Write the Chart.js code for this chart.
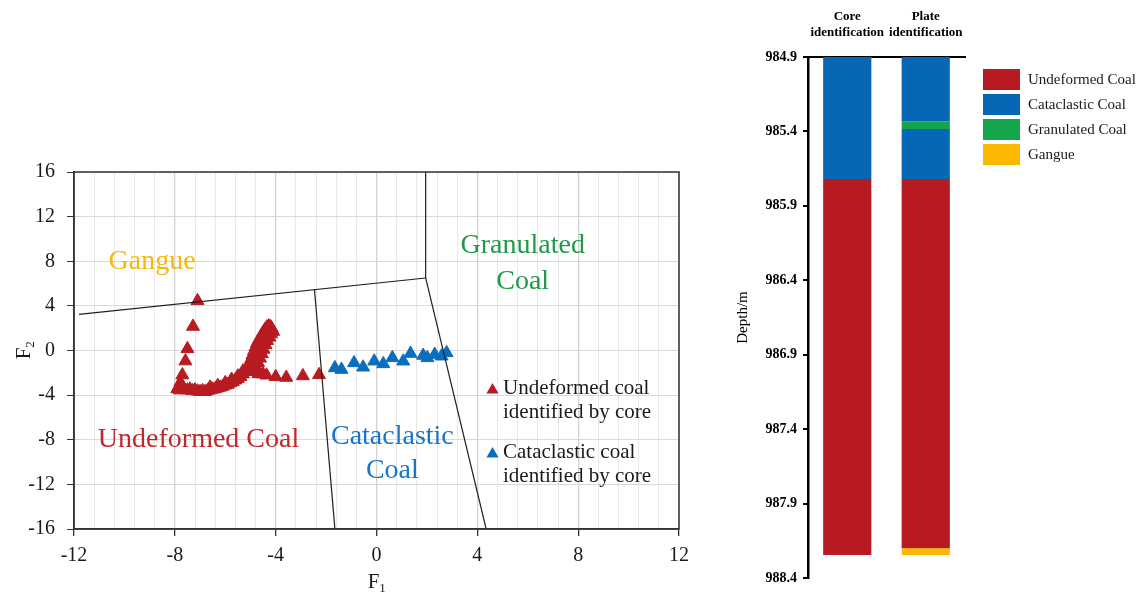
<!DOCTYPE html>
<html>
<head>
<meta charset="utf-8">
<title>Coal structure discrimination</title>
<script src="https://cdn.jsdelivr.net/npm/chart.js@4.4.1/dist/chart.umd.min.js"></script>
<style>
  html, body { margin: 0; padding: 0; background: #fff; }
  #wrap { position: relative; width: 1136px; height: 597px; overflow: hidden; }
  #discrimChart { position: absolute; left: 0; top: 0; }
  #columnChart { position: absolute; left: 720px; top: 0; }
</style>
</head>
<body>
<div id="wrap">
  <canvas id="discrimChart" width="720" height="597"></canvas>
  <canvas id="columnChart" width="416" height="597"></canvas>
</div>
<script>
// ---- discriminant plot data (F1, F2) ----
const undeformedF1 = [
  -7.10, -7.28, -7.50, -7.58, -7.70, -7.78, -7.85, -7.90, -7.80, -7.72,
  -7.62, -7.50, -7.40, -7.30, -7.20, -7.10, -7.00, -6.90, -6.80, -6.70,
  -6.60, -6.50, -6.40, -6.30, -6.20, -6.10, -6.00, -5.90, -5.80, -5.70,
  -5.60, -5.50, -5.40, -5.30, -5.20, -5.12, -5.05, -4.98, -4.92, -4.86,
  -4.80, -4.74, -4.66, -4.58, -4.50, -4.43, -4.35, -4.28, -4.20, -4.14,
  -4.10, -4.18, -4.25, -4.34, -4.40, -4.48, -4.55, -4.62, -4.70, -4.76,
  -4.80, -4.68, -4.50, -4.36, -4.00, -3.58, -2.92, -2.28,
  -6.60, -6.30, -6.00, -5.75, -5.50, -5.30
];
const undeformedF2 = [
   4.45,  2.15,  0.15, -0.95, -2.20, -2.85, -3.25, -3.45, -3.55, -3.40,
  -3.50, -3.55, -3.48, -3.60, -3.55, -3.65, -3.70, -3.62, -3.70, -3.58,
  -3.55, -3.48, -3.45, -3.36, -3.30, -3.22, -3.12, -3.05, -2.92, -2.80,
  -2.66, -2.52, -2.35, -2.12, -1.88, -1.55, -1.20, -0.80, -0.42, -0.05,
   0.30,  0.65,  0.98,  1.30,  1.60,  1.85,  2.08,  2.20,  2.12,  1.92,
   1.70,  1.48,  1.18,  0.88,  0.50,  0.10, -0.30, -0.70, -1.10, -1.50,
  -1.90, -2.10, -2.12, -2.22, -2.36, -2.42, -2.28, -2.18,
  -3.30, -3.15, -2.90, -2.60, -2.30, -1.85
];
const cataclasticF1 = [-1.65, -1.39, -0.89, -0.53, -0.09, 0.27, 0.63, 1.06, 1.35, 1.85, 2.02, 2.31, 2.58, 2.78];
const cataclasticF2 = [-1.56, -1.71, -1.11, -1.50, -0.96, -1.20, -0.66, -0.96, -0.27, -0.45, -0.66, -0.36, -0.51, -0.21];

// zone boundaries as [F1, F2] end points
const gangueBoundary = [[-11.8, 3.24], [1.95, 6.5]];
const granulatedWest = [[1.95, 6.5], [1.95, 16]];
const granulatedSouth = [[1.95, 6.5], [4.35, -16]];
const cataclasticWest = [[-2.46, 5.45], [-1.65, -16]];

// ---- depth column data ----
const columns = [['Core', 'identification'], ['Plate', 'identification']];
const lithologies = ['Undeformed Coal', 'Cataclastic Coal', 'Granulated Coal', 'Gangue'];
const depthTicks = [984.9, 985.4, 985.9, 986.4, 986.9, 987.4, 987.9, 988.4];
const undeformedIntervals = [[985.72, 988.245], [985.72, 988.20]];
const cataclasticIntervals = [[984.9, 985.72], [984.9, 985.334]];
const cataclasticLowerIntervals = [null, [985.384, 985.72]];
const granulatedIntervals = [null, [985.334, 985.384]];
const gangueIntervals = [null, [988.20, 988.245]];

const serif = "'Liberation Serif', 'Times New Roman', serif";
const RED = '#B81B22';
const BLUE = '#0A6EBE';
const lithColors = ['#B71B21', '#0767B7', '#14A64B', '#FBB800'];

const toPoints = (xs, ys) => xs.map((v, i) => ({ x: v, y: ys[i] }));
const toLine = pts => pts.map(p => ({ x: p[0], y: p[1] }));
const isMajor = v => Math.abs(v / 4 - Math.round(v / 4)) < 1e-6;

// text drawn on top of the discriminant plot
const zoneText = [
  { lines: ['Gangue'], x: -8.9, y: 8.0, color: '#F6B80A', gap: 0 },
  { lines: ['Granulated', 'Coal'], x: 5.8, y: 9.44, color: '#1E9A4A', gap: 36 },
  { lines: ['Undeformed Coal'], x: -7.06, y: -8.0, color: '#BF272D', gap: 0 },
  { lines: ['Cataclastic', 'Coal'], x: 0.63, y: -7.73, color: '#1A74C6', gap: 34 }
];

function triangle(ctx, x, y, r) {
  ctx.beginPath();
  ctx.moveTo(x, y - r);
  ctx.lineTo(x + r * 0.866, y + r * 0.5);
  ctx.lineTo(x - r * 0.866, y + r * 0.5);
  ctx.closePath();
  ctx.fill();
}

const discrimDecor = {
  id: 'discrimDecor',
  afterDatasetsDraw(chart) {
    const { ctx, chartArea: a, scales: { x, y } } = chart;
    ctx.save();
    ctx.strokeStyle = '#333';
    ctx.lineWidth = 1.5;
    ctx.strokeRect(a.left, a.top, a.width, a.height);

    ctx.textAlign = 'center';
    ctx.textBaseline = 'middle';
    ctx.font = `28px ${serif}`;
    zoneText.forEach(z => {
      ctx.fillStyle = z.color;
      z.lines.forEach((t, i) => ctx.fillText(t, x.getPixelForValue(z.x), y.getPixelForValue(z.y) + i * z.gap));
    });

    // legend
    const entries = [
      { color: RED, lines: ['Undeformed coal', 'identified by core'], top: 388 },
      { color: BLUE, lines: ['Cataclastic coal', 'identified by core'], top: 452 }
    ];
    ctx.textAlign = 'left';
    ctx.font = `21px ${serif}`;
    entries.forEach(e => {
      ctx.fillStyle = e.color;
      triangle(ctx, 492.5, e.top + 2, 7);
      ctx.fillStyle = '#1a1a1a';
      e.lines.forEach((t, i) => ctx.fillText(t, 503, e.top + i * 24.5));
    });

    // axis titles F1 / F2 with subscripts
    ctx.fillStyle = '#1a1a1a';
    const cx = (a.left + a.right) / 2;
    ctx.font = `21px ${serif}`;
    const fw = ctx.measureText('F').width;
    ctx.fillText('F', cx - fw / 2 - 3, 582);
    ctx.font = `13px ${serif}`;
    ctx.fillText('1', cx + fw / 2 - 3, 589);

    ctx.translate(24, (a.top + a.bottom) / 2);
    ctx.rotate(-Math.PI / 2);
    ctx.font = `21px ${serif}`;
    ctx.fillText('F', -fw / 2 - 3, 0);
    ctx.font = `13px ${serif}`;
    ctx.fillText('2', fw / 2 - 3, 7);
    ctx.restore();
  }
};

const boundaryStyle = { showLine: true, pointRadius: 0, borderColor: '#1f1f1f', borderWidth: 1.2, fill: false };
const markerStyle = { pointStyle: 'triangle', pointRadius: 7.5, borderWidth: 1 };

new Chart(document.getElementById('discrimChart'), {
  type: 'scatter',
  data: {
    datasets: [
      { label: 'gangue boundary', data: toLine(gangueBoundary), ...boundaryStyle },
      { label: 'granulated west', data: toLine(granulatedWest), ...boundaryStyle },
      { label: 'granulated south', data: toLine(granulatedSouth), ...boundaryStyle },
      { label: 'cataclastic west', data: toLine(cataclasticWest), ...boundaryStyle },
      { label: 'Undeformed coal identified by core', data: toPoints(undeformedF1, undeformedF2),
        backgroundColor: RED, borderColor: RED, ...markerStyle },
      { label: 'Cataclastic coal identified by core', data: toPoints(cataclasticF1, cataclasticF2),
        backgroundColor: BLUE, borderColor: BLUE, ...markerStyle }
    ]
  },
  options: {
    responsive: false,
    animation: false,
    layout: { padding: { top: 172, right: 41, left: 0, bottom: 0 } },
    plugins: { legend: { display: false }, tooltip: { enabled: false } },
    scales: {
      x: {
        type: 'linear', min: -12, max: 12,
        afterBuildTicks(s) {
          const t = [];
          for (let i = 0; i <= 30; i++) t.push({ value: -12 + i * 0.8 });
          s.ticks = t;
        },
        afterFit(s) { s.height = 68; },
        ticks: {
          autoSkip: false, maxRotation: 0, padding: 8, color: '#1a1a1a',
          font: { family: serif, size: 20 },
          callback: v => isMajor(v) ? String(Math.round(v)) : ''
        },
        grid: {
          color: c => isMajor(c.tick.value) ? '#D2D2D2' : '#E8E8E8',
          lineWidth: c => isMajor(c.tick.value) ? 1.3 : 1,
          tickColor: c => isMajor(c.tick.value) ? '#333' : 'rgba(0,0,0,0)',
          tickLength: 7
        },
        border: { color: '#333', width: 1.5 }
      },
      y: {
        type: 'linear', min: -16, max: 16,
        ticks: { stepSize: 4, padding: 12, color: '#1a1a1a', font: { family: serif, size: 20 } },
        afterFit(s) { s.width = 74; },
        grid: { color: '#D9D9D9', tickColor: '#333', tickLength: 7 },
        border: { color: '#333', width: 1.5 }
      }
    }
  },
  plugins: [discrimDecor]
});

// legend for the depth columns
const columnLegend = {
  id: 'columnLegend',
  afterDraw(chart) {
    const { ctx } = chart;
    ctx.save();
    ctx.font = `15px ${serif}`;
    ctx.textAlign = 'left';
    ctx.textBaseline = 'middle';
    lithologies.forEach((name, i) => {
      const top = 69 + i * 25;
      ctx.fillStyle = lithColors[i];
      ctx.fillRect(263, top, 37, 21);
      ctx.fillStyle = '#1a1a1a';
      ctx.fillText(name, 308, top + 11);
    });
    ctx.restore();
  }
};

const barStyle = { grouped: false, barPercentage: 0.614, categoryPercentage: 1, borderWidth: 0, borderSkipped: false };

new Chart(document.getElementById('columnChart'), {
  type: 'bar',
  data: {
    labels: columns,
    datasets: [
      { label: lithologies[0], data: undeformedIntervals, backgroundColor: lithColors[0], ...barStyle },
      { label: lithologies[1], data: cataclasticIntervals, backgroundColor: lithColors[1], ...barStyle },
      { label: lithologies[1], data: cataclasticLowerIntervals, backgroundColor: lithColors[1], ...barStyle },
      { label: lithologies[2], data: granulatedIntervals, backgroundColor: lithColors[2], ...barStyle },
      { label: lithologies[3], data: gangueIntervals, backgroundColor: lithColors[3], ...barStyle }
    ]
  },
  options: {
    responsive: false,
    animation: false,
    layout: { padding: { top: 0, right: 171, left: 0, bottom: 19 } },
    plugins: { legend: { display: false }, tooltip: { enabled: false } },
    scales: {
      x: {
        position: 'top',
        afterFit(s) { s.height = 57; },
        grid: { display: false },
        border: { display: true, color: '#000', width: 2 },
        ticks: { autoSkip: false, color: '#000', padding: 8, maxRotation: 0,
          font: { family: serif, size: 13, weight: 'bold', lineHeight: 1.25 } }
      },
      y: {
        reverse: true, min: 984.9, max: 988.4,
        afterBuildTicks(s) { s.ticks = depthTicks.map(v => ({ value: v })); },
        afterFit(s) { s.width = 88; },
        ticks: { color: '#000', padding: 6, font: { family: serif, size: 14, weight: 'bold' }, callback: v => v.toFixed(1) },
        grid: { drawOnChartArea: false, drawTicks: true, tickLength: 5, color: '#000', lineWidth: 2 },
        border: { color: '#000', width: 2.5 },
        title: { display: true, text: 'Depth/m', color: '#000', padding: { top: 14, bottom: 0 }, font: { family: serif, size: 15 } }
      }
    }
  },
  plugins: [columnLegend]
});
</script>
</body>
</html>
